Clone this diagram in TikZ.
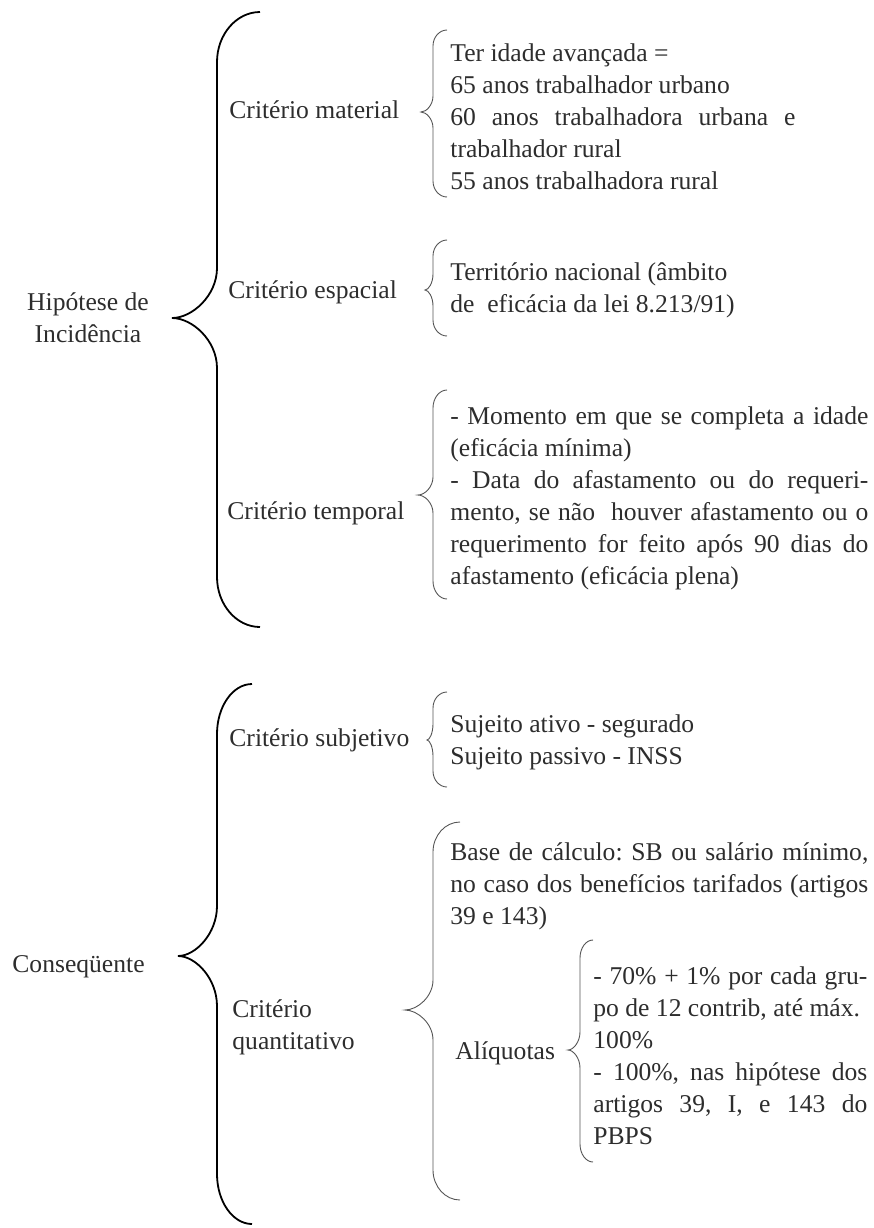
\documentclass[tikz,border=0pt]{standalone}
\usepackage{fontspec}
\setmainfont{Liberation Serif}
\usepackage{xcolor}
\usepackage{tikz}
\definecolor{textgray}{RGB}{45, 45, 45}
\definecolor{bracegray}{RGB}{85, 85, 85}
\setlength{\parindent}{0pt}
\tolerance=9999
\hyphenpenalty=10000
\frenchspacing

% curly brace: [style]{x of stem}{top}{bottom}{x of tip}{y of tip}{x of ends}{bend}
\newcommand{\curly}[8][]{%
  \draw[#1] (#7,#3) .. controls ({#2+0.45*(#7-#2)},#3) and (#2,{#3+0.45*#8}) .. (#2,{#3+#8})
    -- (#2,{#6-#8}) .. controls (#2,{#6-0.45*#8}) and ({#5+0.45*(#2-#5)},#6) .. (#5,#6)
    .. controls ({#5+0.45*(#2-#5)},#6) and (#2,{#6+0.45*#8}) .. (#2,{#6+#8})
    -- (#2,{#4-#8}) .. controls (#2,{#4-0.45*#8}) and ({#2+0.45*(#7-#2)},#4) .. (#7,#4);}

\begin{document}
\begin{tikzpicture}[
        x=0.5pt, y=-0.5pt,
        every node/.style={inner sep=0pt, text=textgray, font=\fontsize{12.8}{16}\selectfont},
        crit/.style={anchor=west, align=left},
        detail/.style={anchor=west, text width=#1, align=justify},
        bigbrace/.style={draw=black, line width=0.9pt},
        smallbrace/.style={draw=bracegray, line width=0.45pt}
    ]
    \useasboundingbox (0,0) rectangle (874,1228);

    % Main headings
    \node[align=center] (hipotese) at (88, 318) {Hipótese de\\Incidência};
    \node[crit] (consequente) at (12, 967) {Conseqüente};

    % Criteria
    \node[crit] (material) at (229, 110) {Critério material};
    \node[crit] (espacial) at (228, 292) {Critério espacial};
    \node[crit] (temporal) at (227, 513) {Critério temporal};
    \node[crit] (subjetivo) at (229, 740) {Critério subjetivo};
    \node[crit] (quantitativo) at (232, 1027) {Critério\\quantitativo};
    \node[crit] (aliquotas) at (455, 1053) {Alíquotas};

    % Details
    \node[detail=172.5pt] (idade) at (450, 117) {Ter idade avançada =\\65 anos trabalhador urbano\\60 anos trabalhadora urbana e\linebreak trabalhador rural\\55 anos trabalhadora rural};
    \node[detail=208.5pt] (territorio) at (450, 290) {Território nacional (âmbito\\de~~eficácia da lei 8.213/91)};
    \node[detail=209pt] (momento) at (450, 498) {- Momento em que se completa a idade\linebreak (eficácia mínima)\\- Data do afastamento ou do requeri-\linebreak mento, se não~ houver afastamento ou o\linebreak requerimento for feito após 90 dias do\linebreak afastamento (eficácia plena)};
    \node[detail=208.5pt] (sujeito) at (450, 742) {Sujeito ativo - segurado\\Sujeito passivo - INSS};
    \node[detail=209pt] (base) at (450, 886) {Base de cálculo: SB ou salário mínimo,\linebreak no caso dos benefícios tarifados (artigos\linebreak 39 e 143)};
    \node[detail=137pt] (percent) at (593, 1056) {- 70\% + 1\% por cada gru-\linebreak po de 12 contrib, até máx.\\100\%\\- 100\%, nas hipótese dos\linebreak artigos 39, I, e 143 do\linebreak PBPS};

    % Big braces
    \curly[bigbrace]{217}{12}{627}{172}{318}{260}{50}
    \curly[bigbrace]{217}{684}{1224}{178}{956}{252}{50}

    % Small braces
    \curly[smallbrace]{433}{30}{197}{421}{112}{447}{16}
    \curly[smallbrace]{433}{240}{336}{425}{290}{447}{16}
    \curly[smallbrace]{433}{390}{599}{418}{495}{447}{18}
    \curly[smallbrace]{433}{692}{787}{427}{740}{447}{16}
    \curly[smallbrace]{433}{822}{1200}{405}{1010}{460}{30}
    \curly[smallbrace]{580}{940}{1162}{568}{1050}{593}{18}

\end{tikzpicture}
\end{document}
